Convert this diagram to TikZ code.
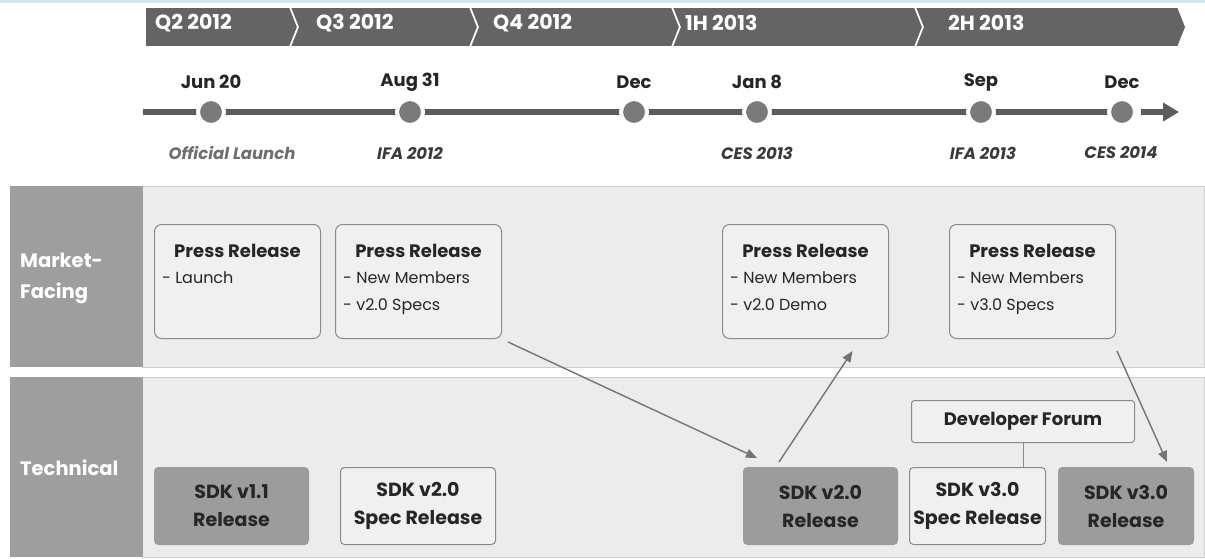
\documentclass[tikz,border=0pt]{standalone}
\usepackage{fontspec}
\setmainfont{Poppins}
\usetikzlibrary{calc,arrows.meta}
\definecolor{band}{HTML}{646464}
\definecolor{tline}{HTML}{5C5C5C}
\definecolor{dotc}{HTML}{7A7A7A}
\definecolor{labcol}{HTML}{9E9E9E}
\definecolor{lanebg}{HTML}{ECECEC}
\definecolor{laneline}{HTML}{CFCFCF}
\definecolor{boxline}{HTML}{8A8A8A}
\definecolor{boxfill}{HTML}{F0F0F0}
\definecolor{darkbox}{HTML}{9C9C9C}
\definecolor{txt}{HTML}{262626}
\definecolor{evtxt}{HTML}{3A3A3A}
\definecolor{evlight}{HTML}{6E6E6E}
\definecolor{topblue}{HTML}{D2E6F2}
\definecolor{arr}{HTML}{747474}
\tikzset{
  seg/.style={fill=band, draw=white, line width=1.6pt, line join=miter},
  segtxt/.style={text=white, font=\fontsize{20.5}{24}\selectfont\bfseries, anchor=west, inner sep=0pt},
  datetxt/.style={text=txt, font=\fontsize{18}{21}\selectfont\bfseries, inner sep=0pt},
  evtxtst/.style={text=evtxt, font=\fontsize{16.5}{20}\selectfont\bfseries\itshape, inner sep=0pt},
  tdot/.style={circle, fill=dotc, draw=white, line width=4pt, minimum size=26pt, inner sep=0pt},
  lanelab/.style={fill=labcol, draw=none, inner sep=0pt, anchor=north west},
  lanearea/.style={fill=lanebg, draw=laneline, line width=1pt, inner sep=0pt, anchor=north west},
  lanetxt/.style={text=white, font=\fontsize{19.5}{31}\selectfont\bfseries, align=left, anchor=west, inner sep=0pt},
  prbox/.style={draw=boxline, fill=boxfill, rounded corners=7pt, line width=1pt, minimum width=166pt, minimum height=114pt, inner sep=0pt, anchor=north west},
  prtitle/.style={text=txt, font=\fontsize{18}{21}\selectfont\bfseries, inner sep=0pt},
  prbody/.style={text=txt, font=\fontsize{16}{27}\selectfont, align=left, anchor=north west, inner sep=0pt},
  sdkdark/.style={fill=darkbox, draw=darkbox, rounded corners=4pt, line width=1pt, minimum height=77pt, inner sep=0pt, anchor=north west, text=txt, font=\fontsize{19}{28}\selectfont\bfseries, align=center},
  sdklight/.style={fill=boxfill, draw=boxline, rounded corners=4pt, line width=1pt, minimum height=77pt, inner sep=0pt, anchor=north west, text=txt, font=\fontsize{19}{28}\selectfont\bfseries, align=center},
  conn/.style={draw=arr, line width=1.4pt, -{Triangle[length=11pt,width=9pt]}},
  plainconn/.style={draw=boxline, line width=1pt},
}
\begin{document}
\begin{tikzpicture}[x=1pt,y=-1pt]
\useasboundingbox (0,0) rectangle (1205,558);
\fill[white] (0,0) rectangle (1205,558);
\fill[topblue] (0,0) rectangle (1205,3);
% chevron band
\path[seg] (145,7) -- (290,7) -- (298,27) -- (290,47) -- (145,47) -- cycle;
\path[seg] (290,7) -- (470,7) -- (478,27) -- (470,47) -- (290,47) -- (298,27) -- cycle;
\path[seg] (470,7) -- (672,7) -- (680,27) -- (672,47) -- (470,47) -- (478,27) -- cycle;
\path[seg] (672,7) -- (915,7) -- (923,27) -- (915,47) -- (672,47) -- (680,27) -- cycle;
\path[seg] (915,7) -- (1178,7) -- (1186,27) -- (1178,47) -- (915,47) -- (923,27) -- cycle;
\node[segtxt] (q2) at (155,23) {Q2 2012};
\node[segtxt] (q3) at (316,23) {Q3 2012};
\node[segtxt] (q4) at (493,23) {Q4 2012};
\node[segtxt] (h1) at (685,23) {1H 2013};
\node[segtxt] (h2) at (948,23) {2H 2013};
% timeline
\coordinate (tstart) at (143,112);
\coordinate (tend) at (1179,112);
\draw[tline, line width=6pt, -{Triangle[length=16pt,width=18pt]}] (tstart) -- (tend);
\node[tdot] (d1) at (211,112) {};
\node[tdot] (d2) at (410,112) {};
\node[tdot] (d3) at (634,112) {};
\node[tdot] (d4) at (757,112) {};
\node[tdot] (d5) at (981,112) {};
\node[tdot] (d6) at (1122,112) {};
\fill[white] (1136,108) rectangle (1141,116);
\node[datetxt] (l1) at (211,82) {Jun 20};
\node[datetxt] (l2) at (410,82) {Aug 31};
\node[datetxt] (l3) at (634,82) {Dec};
\node[datetxt] (l4) at (757,82) {Jan 8};
\node[datetxt] (l5) at (981,82) {Sep};
\node[datetxt] (l6) at (1122,82) {Dec};
\node[evtxtst, text=evlight] (e1) at (232,153) {Official Launch};
\node[evtxtst] (e2) at (410,153) {IFA 2012};
\node[evtxtst] (e4) at (757,153) {CES 2013};
\node[evtxtst] (e5) at (983,153) {IFA 2013};
\node[evtxtst] (e6) at (1121,153) {CES 2014};
% lanes
\node[lanearea, minimum width=1062pt, minimum height=181pt] (mlane) at (142,186) {};
\node[lanelab, minimum width=133pt, minimum height=181pt] (mlab) at (10,186) {};
\node[lanetxt] (mlabt) at (20,278) {Market-\\Facing};
\node[lanearea, minimum width=1062pt, minimum height=180pt] (tlane) at (142,377) {};
\node[lanelab, minimum width=133pt, minimum height=180pt] (tlab) at (10,377) {};
\node[lanetxt] (tlabt) at (20,468) {Technical};
% press releases
\node[prbox] (pr1) at (154,224) {};
\node[prbox] (pr2) at (335,224) {};
\node[prbox] (pr3) at (722,224) {};
\node[prbox] (pr4) at (949,224) {};
\node[prtitle] (pr1t) at ($(pr1.north)+(0,27)$) {Press Release};
\node[prtitle] (pr2t) at ($(pr2.north)+(0,27)$) {Press Release};
\node[prtitle] (pr3t) at ($(pr3.north)+(0,27)$) {Press Release};
\node[prtitle] (pr4t) at ($(pr4.north)+(0,27)$) {Press Release};
\node[prbody] (pr1b) at ($(pr1.north west)+(8,47)$) {- Launch};
\node[prbody] (pr2b) at ($(pr2.north west)+(8,47)$) {- New Members\\- v2.0 Specs};
\node[prbody] (pr3b) at ($(pr3.north west)+(8,47)$) {- New Members\\- v2.0 Demo};
\node[prbody] (pr4b) at ($(pr4.north west)+(8,47)$) {- New Members\\- v3.0 Specs};
% technical boxes
\node[sdkdark, minimum width=154pt] (sdk11) at (154,467) {SDK v1.1\\Release};
\node[sdklight, minimum width=155pt] (sdk20s) at (340,467) {SDK v2.0\\Spec Release};
\node[sdkdark, minimum width=154pt] (sdk20) at (743,467) {SDK v2.0\\Release};
\node[sdklight, minimum width=136pt] (sdk30s) at (909,467) {SDK v3.0\\Spec Release};
\node[sdkdark, minimum width=135pt] (sdk30) at (1058,467) {SDK v3.0\\Release};
\node[sdklight, minimum width=223pt, minimum height=42pt, rounded corners=3pt, font=\fontsize{18}{21}\selectfont\bfseries] (devf) at (911,400) {Developer Forum};
% connectors
\draw[plainconn] (devf.south) -- (devf.south |- sdk30s.north);
\draw[conn] ($(pr2.south east)+(6,3)$) -- ($(sdk20.north west)+(14,-9)$);
\draw[conn] ($(sdk20.north west)+(36,-5)$) -- ($(pr3.south)+(47,12)$);
\draw[conn] ($(pr4.south east)+(1,12)$) -- ($(sdk30.north)+(41,-5)$);
\end{tikzpicture}
\end{document}
